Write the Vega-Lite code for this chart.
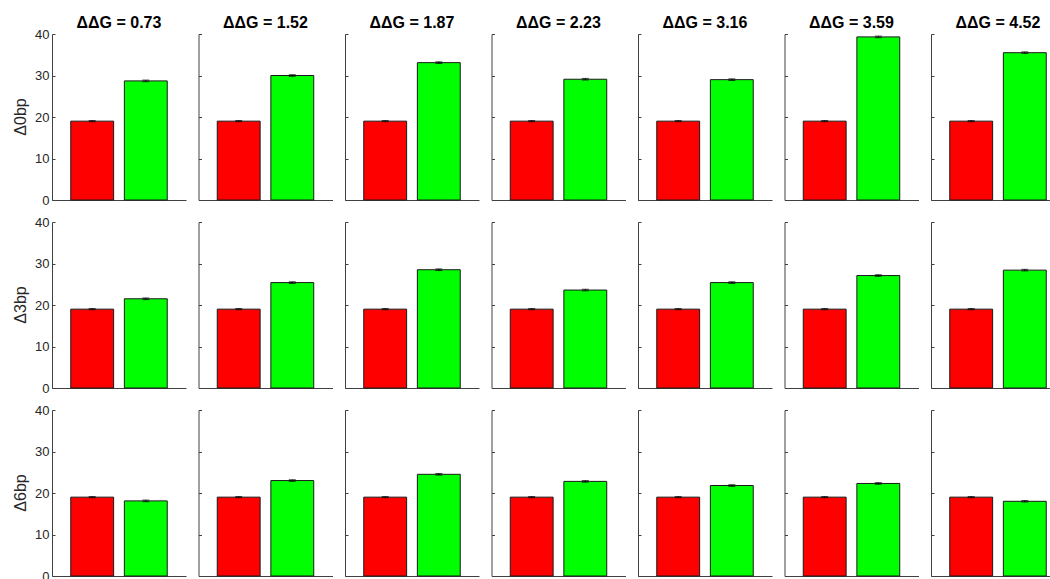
{
  "$schema": "https://vega.github.io/schema/vega-lite/v6.json",
  "background": "white",
  "padding": {"left": 12, "top": 15, "right": 0, "bottom": 0},
  "data": {
    "values": [
      {"ddg": "0.73", "del": "Δ0bp", "group": "G1", "value": 19.0, "err": 0.15},
      {"ddg": "0.73", "del": "Δ0bp", "group": "G2", "value": 28.7, "err": 0.2},
      {"ddg": "1.52", "del": "Δ0bp", "group": "G1", "value": 19.0, "err": 0.15},
      {"ddg": "1.52", "del": "Δ0bp", "group": "G2", "value": 30.0, "err": 0.2},
      {"ddg": "1.87", "del": "Δ0bp", "group": "G1", "value": 19.0, "err": 0.15},
      {"ddg": "1.87", "del": "Δ0bp", "group": "G2", "value": 33.1, "err": 0.2},
      {"ddg": "2.23", "del": "Δ0bp", "group": "G1", "value": 19.0, "err": 0.15},
      {"ddg": "2.23", "del": "Δ0bp", "group": "G2", "value": 29.1, "err": 0.2},
      {"ddg": "3.16", "del": "Δ0bp", "group": "G1", "value": 19.0, "err": 0.15},
      {"ddg": "3.16", "del": "Δ0bp", "group": "G2", "value": 29.0, "err": 0.2},
      {"ddg": "3.59", "del": "Δ0bp", "group": "G1", "value": 19.0, "err": 0.15},
      {"ddg": "3.59", "del": "Δ0bp", "group": "G2", "value": 39.3, "err": 0.2},
      {"ddg": "4.52", "del": "Δ0bp", "group": "G1", "value": 19.0, "err": 0.15},
      {"ddg": "4.52", "del": "Δ0bp", "group": "G2", "value": 35.5, "err": 0.2},
      {"ddg": "0.73", "del": "Δ3bp", "group": "G1", "value": 19.0, "err": 0.15},
      {"ddg": "0.73", "del": "Δ3bp", "group": "G2", "value": 21.5, "err": 0.2},
      {"ddg": "1.52", "del": "Δ3bp", "group": "G1", "value": 19.0, "err": 0.15},
      {"ddg": "1.52", "del": "Δ3bp", "group": "G2", "value": 25.4, "err": 0.2},
      {"ddg": "1.87", "del": "Δ3bp", "group": "G1", "value": 19.0, "err": 0.15},
      {"ddg": "1.87", "del": "Δ3bp", "group": "G2", "value": 28.5, "err": 0.2},
      {"ddg": "2.23", "del": "Δ3bp", "group": "G1", "value": 19.0, "err": 0.15},
      {"ddg": "2.23", "del": "Δ3bp", "group": "G2", "value": 23.6, "err": 0.2},
      {"ddg": "3.16", "del": "Δ3bp", "group": "G1", "value": 19.0, "err": 0.15},
      {"ddg": "3.16", "del": "Δ3bp", "group": "G2", "value": 25.4, "err": 0.2},
      {"ddg": "3.59", "del": "Δ3bp", "group": "G1", "value": 19.0, "err": 0.15},
      {"ddg": "3.59", "del": "Δ3bp", "group": "G2", "value": 27.1, "err": 0.2},
      {"ddg": "4.52", "del": "Δ3bp", "group": "G1", "value": 19.0, "err": 0.15},
      {"ddg": "4.52", "del": "Δ3bp", "group": "G2", "value": 28.4, "err": 0.2},
      {"ddg": "0.73", "del": "Δ6bp", "group": "G1", "value": 19.0, "err": 0.15},
      {"ddg": "0.73", "del": "Δ6bp", "group": "G2", "value": 18.1, "err": 0.2},
      {"ddg": "1.52", "del": "Δ6bp", "group": "G1", "value": 19.0, "err": 0.15},
      {"ddg": "1.52", "del": "Δ6bp", "group": "G2", "value": 23.0, "err": 0.2},
      {"ddg": "1.87", "del": "Δ6bp", "group": "G1", "value": 19.0, "err": 0.15},
      {"ddg": "1.87", "del": "Δ6bp", "group": "G2", "value": 24.5, "err": 0.2},
      {"ddg": "2.23", "del": "Δ6bp", "group": "G1", "value": 19.0, "err": 0.15},
      {"ddg": "2.23", "del": "Δ6bp", "group": "G2", "value": 22.8, "err": 0.2},
      {"ddg": "3.16", "del": "Δ6bp", "group": "G1", "value": 19.0, "err": 0.15},
      {"ddg": "3.16", "del": "Δ6bp", "group": "G2", "value": 21.8, "err": 0.2},
      {"ddg": "3.59", "del": "Δ6bp", "group": "G1", "value": 19.0, "err": 0.15},
      {"ddg": "3.59", "del": "Δ6bp", "group": "G2", "value": 22.3, "err": 0.2},
      {"ddg": "4.52", "del": "Δ6bp", "group": "G1", "value": 19.0, "err": 0.15},
      {"ddg": "4.52", "del": "Δ6bp", "group": "G2", "value": 18.0, "err": 0.2}
    ]
  },
  "transform": [
    {"calculate": "datum.value - datum.err", "as": "lo"},
    {"calculate": "datum.value + datum.err", "as": "hi"}
  ],
  "hconcat": [
    {
      "transform": [{"filter": "datum.ddg == '0.73'"}],
      "facet": {
        "column": {"field": "ddg", "type": "nominal", "title": null, "header": {"labelExpr": "'ΔΔG = ' + datum.value", "labelAngle": 0, "labelOrient": "top", "labelFontSize": 16, "labelFontWeight": "bold", "labelColor": "#000000", "labelPadding": -13}},
        "row": {"field": "del", "type": "nominal", "sort": ["Δ0bp", "Δ3bp", "Δ6bp"], "title": null, "header": {"labels": true, "labelAngle": -90, "labelOrient": "left", "labelFontSize": 16, "labelColor": "#262626", "labelPadding": -2}}
      },
      "resolve": {"axis": {"x": "independent"}},
      "spec": {
        "width": 134, "height": 166,
        "encoding": {
          "x": {"field": "group", "type": "nominal", "title": null, "scale": {"paddingInner": 0.2, "paddingOuter": 0.35}, "axis": {"labels": false}},
          "y": {"field": "value", "type": "quantitative", "title": null, "scale": {"domain": [0, 40], "nice": false}, "axis": {"values": [0, 10, 20, 30, 40], "labels": true}}
        },
        "layer": [
          {"mark": {"type": "bar", "stroke": "#1a1a1a", "strokeWidth": 1}, "encoding": {"color": {"field": "group", "type": "nominal", "scale": {"domain": ["G1", "G2"], "range": ["#ff0000", "#00ff00"]}, "legend": null}}},
          {"mark": {"type": "rule", "color": "black", "strokeWidth": 1}, "encoding": {"y": {"field": "lo", "type": "quantitative"}, "y2": {"field": "hi"}}},
          {"mark": {"type": "tick", "color": "black", "size": 7, "thickness": 1}, "encoding": {"y": {"field": "lo", "type": "quantitative"}}},
          {"mark": {"type": "tick", "color": "black", "size": 7, "thickness": 1}, "encoding": {"y": {"field": "hi", "type": "quantitative"}}}
        ]
      }
    },
    {
      "transform": [{"filter": "datum.ddg == '1.52'"}],
      "facet": {
        "column": {"field": "ddg", "type": "nominal", "title": null, "header": {"labelExpr": "'ΔΔG = ' + datum.value", "labelAngle": 0, "labelOrient": "top", "labelFontSize": 16, "labelFontWeight": "bold", "labelColor": "#000000", "labelPadding": -13}},
        "row": {"field": "del", "type": "nominal", "sort": ["Δ0bp", "Δ3bp", "Δ6bp"], "title": null, "header": {"labels": false}}
      },
      "resolve": {"axis": {"x": "independent"}},
      "spec": {
        "width": 134, "height": 166,
        "encoding": {
          "x": {"field": "group", "type": "nominal", "title": null, "scale": {"paddingInner": 0.2, "paddingOuter": 0.35}, "axis": {"labels": false}},
          "y": {"field": "value", "type": "quantitative", "title": null, "scale": {"domain": [0, 40], "nice": false}, "axis": {"values": [0, 10, 20, 30, 40], "labels": false}}
        },
        "layer": [
          {"mark": {"type": "bar", "stroke": "#1a1a1a", "strokeWidth": 1}, "encoding": {"color": {"field": "group", "type": "nominal", "scale": {"domain": ["G1", "G2"], "range": ["#ff0000", "#00ff00"]}, "legend": null}}},
          {"mark": {"type": "rule", "color": "black", "strokeWidth": 1}, "encoding": {"y": {"field": "lo", "type": "quantitative"}, "y2": {"field": "hi"}}},
          {"mark": {"type": "tick", "color": "black", "size": 7, "thickness": 1}, "encoding": {"y": {"field": "lo", "type": "quantitative"}}},
          {"mark": {"type": "tick", "color": "black", "size": 7, "thickness": 1}, "encoding": {"y": {"field": "hi", "type": "quantitative"}}}
        ]
      }
    },
    {
      "transform": [{"filter": "datum.ddg == '1.87'"}],
      "facet": {
        "column": {"field": "ddg", "type": "nominal", "title": null, "header": {"labelExpr": "'ΔΔG = ' + datum.value", "labelAngle": 0, "labelOrient": "top", "labelFontSize": 16, "labelFontWeight": "bold", "labelColor": "#000000", "labelPadding": -13}},
        "row": {"field": "del", "type": "nominal", "sort": ["Δ0bp", "Δ3bp", "Δ6bp"], "title": null, "header": {"labels": false}}
      },
      "resolve": {"axis": {"x": "independent"}},
      "spec": {
        "width": 134, "height": 166,
        "encoding": {
          "x": {"field": "group", "type": "nominal", "title": null, "scale": {"paddingInner": 0.2, "paddingOuter": 0.35}, "axis": {"labels": false}},
          "y": {"field": "value", "type": "quantitative", "title": null, "scale": {"domain": [0, 40], "nice": false}, "axis": {"values": [0, 10, 20, 30, 40], "labels": false}}
        },
        "layer": [
          {"mark": {"type": "bar", "stroke": "#1a1a1a", "strokeWidth": 1}, "encoding": {"color": {"field": "group", "type": "nominal", "scale": {"domain": ["G1", "G2"], "range": ["#ff0000", "#00ff00"]}, "legend": null}}},
          {"mark": {"type": "rule", "color": "black", "strokeWidth": 1}, "encoding": {"y": {"field": "lo", "type": "quantitative"}, "y2": {"field": "hi"}}},
          {"mark": {"type": "tick", "color": "black", "size": 7, "thickness": 1}, "encoding": {"y": {"field": "lo", "type": "quantitative"}}},
          {"mark": {"type": "tick", "color": "black", "size": 7, "thickness": 1}, "encoding": {"y": {"field": "hi", "type": "quantitative"}}}
        ]
      }
    },
    {
      "transform": [{"filter": "datum.ddg == '2.23'"}],
      "facet": {
        "column": {"field": "ddg", "type": "nominal", "title": null, "header": {"labelExpr": "'ΔΔG = ' + datum.value", "labelAngle": 0, "labelOrient": "top", "labelFontSize": 16, "labelFontWeight": "bold", "labelColor": "#000000", "labelPadding": -13}},
        "row": {"field": "del", "type": "nominal", "sort": ["Δ0bp", "Δ3bp", "Δ6bp"], "title": null, "header": {"labels": false}}
      },
      "resolve": {"axis": {"x": "independent"}},
      "spec": {
        "width": 134, "height": 166,
        "encoding": {
          "x": {"field": "group", "type": "nominal", "title": null, "scale": {"paddingInner": 0.2, "paddingOuter": 0.35}, "axis": {"labels": false}},
          "y": {"field": "value", "type": "quantitative", "title": null, "scale": {"domain": [0, 40], "nice": false}, "axis": {"values": [0, 10, 20, 30, 40], "labels": false}}
        },
        "layer": [
          {"mark": {"type": "bar", "stroke": "#1a1a1a", "strokeWidth": 1}, "encoding": {"color": {"field": "group", "type": "nominal", "scale": {"domain": ["G1", "G2"], "range": ["#ff0000", "#00ff00"]}, "legend": null}}},
          {"mark": {"type": "rule", "color": "black", "strokeWidth": 1}, "encoding": {"y": {"field": "lo", "type": "quantitative"}, "y2": {"field": "hi"}}},
          {"mark": {"type": "tick", "color": "black", "size": 7, "thickness": 1}, "encoding": {"y": {"field": "lo", "type": "quantitative"}}},
          {"mark": {"type": "tick", "color": "black", "size": 7, "thickness": 1}, "encoding": {"y": {"field": "hi", "type": "quantitative"}}}
        ]
      }
    },
    {
      "transform": [{"filter": "datum.ddg == '3.16'"}],
      "facet": {
        "column": {"field": "ddg", "type": "nominal", "title": null, "header": {"labelExpr": "'ΔΔG = ' + datum.value", "labelAngle": 0, "labelOrient": "top", "labelFontSize": 16, "labelFontWeight": "bold", "labelColor": "#000000", "labelPadding": -13}},
        "row": {"field": "del", "type": "nominal", "sort": ["Δ0bp", "Δ3bp", "Δ6bp"], "title": null, "header": {"labels": false}}
      },
      "resolve": {"axis": {"x": "independent"}},
      "spec": {
        "width": 134, "height": 166,
        "encoding": {
          "x": {"field": "group", "type": "nominal", "title": null, "scale": {"paddingInner": 0.2, "paddingOuter": 0.35}, "axis": {"labels": false}},
          "y": {"field": "value", "type": "quantitative", "title": null, "scale": {"domain": [0, 40], "nice": false}, "axis": {"values": [0, 10, 20, 30, 40], "labels": false}}
        },
        "layer": [
          {"mark": {"type": "bar", "stroke": "#1a1a1a", "strokeWidth": 1}, "encoding": {"color": {"field": "group", "type": "nominal", "scale": {"domain": ["G1", "G2"], "range": ["#ff0000", "#00ff00"]}, "legend": null}}},
          {"mark": {"type": "rule", "color": "black", "strokeWidth": 1}, "encoding": {"y": {"field": "lo", "type": "quantitative"}, "y2": {"field": "hi"}}},
          {"mark": {"type": "tick", "color": "black", "size": 7, "thickness": 1}, "encoding": {"y": {"field": "lo", "type": "quantitative"}}},
          {"mark": {"type": "tick", "color": "black", "size": 7, "thickness": 1}, "encoding": {"y": {"field": "hi", "type": "quantitative"}}}
        ]
      }
    },
    {
      "transform": [{"filter": "datum.ddg == '3.59'"}],
      "facet": {
        "column": {"field": "ddg", "type": "nominal", "title": null, "header": {"labelExpr": "'ΔΔG = ' + datum.value", "labelAngle": 0, "labelOrient": "top", "labelFontSize": 16, "labelFontWeight": "bold", "labelColor": "#000000", "labelPadding": -13}},
        "row": {"field": "del", "type": "nominal", "sort": ["Δ0bp", "Δ3bp", "Δ6bp"], "title": null, "header": {"labels": false}}
      },
      "resolve": {"axis": {"x": "independent"}},
      "spec": {
        "width": 134, "height": 166,
        "encoding": {
          "x": {"field": "group", "type": "nominal", "title": null, "scale": {"paddingInner": 0.2, "paddingOuter": 0.35}, "axis": {"labels": false}},
          "y": {"field": "value", "type": "quantitative", "title": null, "scale": {"domain": [0, 40], "nice": false}, "axis": {"values": [0, 10, 20, 30, 40], "labels": false}}
        },
        "layer": [
          {"mark": {"type": "bar", "stroke": "#1a1a1a", "strokeWidth": 1}, "encoding": {"color": {"field": "group", "type": "nominal", "scale": {"domain": ["G1", "G2"], "range": ["#ff0000", "#00ff00"]}, "legend": null}}},
          {"mark": {"type": "rule", "color": "black", "strokeWidth": 1}, "encoding": {"y": {"field": "lo", "type": "quantitative"}, "y2": {"field": "hi"}}},
          {"mark": {"type": "tick", "color": "black", "size": 7, "thickness": 1}, "encoding": {"y": {"field": "lo", "type": "quantitative"}}},
          {"mark": {"type": "tick", "color": "black", "size": 7, "thickness": 1}, "encoding": {"y": {"field": "hi", "type": "quantitative"}}}
        ]
      }
    },
    {
      "transform": [{"filter": "datum.ddg == '4.52'"}],
      "facet": {
        "column": {"field": "ddg", "type": "nominal", "title": null, "header": {"labelExpr": "'ΔΔG = ' + datum.value", "labelAngle": 0, "labelOrient": "top", "labelFontSize": 16, "labelFontWeight": "bold", "labelColor": "#000000", "labelPadding": -13}},
        "row": {"field": "del", "type": "nominal", "sort": ["Δ0bp", "Δ3bp", "Δ6bp"], "title": null, "header": {"labels": false}}
      },
      "resolve": {"axis": {"x": "independent"}},
      "spec": {
        "width": 134, "height": 166,
        "encoding": {
          "x": {"field": "group", "type": "nominal", "title": null, "scale": {"paddingInner": 0.2, "paddingOuter": 0.35}, "axis": {"labels": false}},
          "y": {"field": "value", "type": "quantitative", "title": null, "scale": {"domain": [0, 40], "nice": false}, "axis": {"values": [0, 10, 20, 30, 40], "labels": false}}
        },
        "layer": [
          {"mark": {"type": "bar", "stroke": "#1a1a1a", "strokeWidth": 1}, "encoding": {"color": {"field": "group", "type": "nominal", "scale": {"domain": ["G1", "G2"], "range": ["#ff0000", "#00ff00"]}, "legend": null}}},
          {"mark": {"type": "rule", "color": "black", "strokeWidth": 1}, "encoding": {"y": {"field": "lo", "type": "quantitative"}, "y2": {"field": "hi"}}},
          {"mark": {"type": "tick", "color": "black", "size": 7, "thickness": 1}, "encoding": {"y": {"field": "lo", "type": "quantitative"}}},
          {"mark": {"type": "tick", "color": "black", "size": 7, "thickness": 1}, "encoding": {"y": {"field": "hi", "type": "quantitative"}}}
        ]
      }
    }
  ],
  "config": {
    "font": "Liberation Sans",
    "view": {"stroke": null},
    "concat": {"spacing": 11.5},
    "facet": {"spacing": 21},
    "header": {"labelFont": "Liberation Sans"},
    "axis": {
      "grid": false,
      "domainColor": "#404040",
      "domainWidth": 1,
      "tickColor": "#404040",
      "tickSize": -3,
      "labelFontSize": 13,
      "labelColor": "#262626",
      "labelPadding": 6
    }
  }
}
